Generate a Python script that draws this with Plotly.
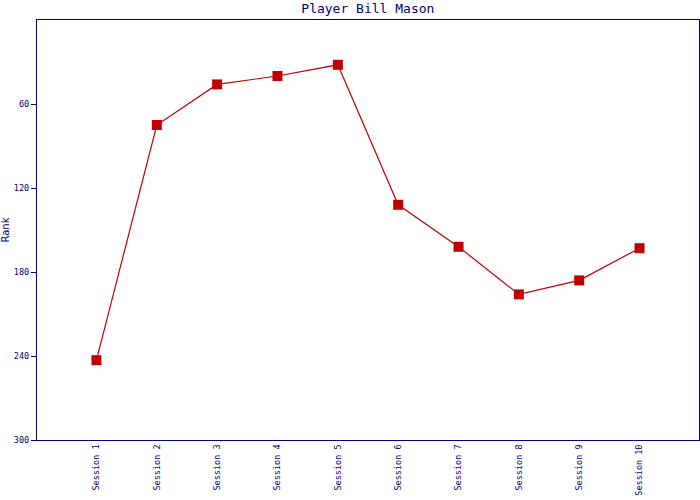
import plotly.graph_objects as go

sessions = ["Session 1", "Session 2", "Session 3", "Session 4", "Session 5",
            "Session 6", "Session 7", "Session 8", "Session 9", "Session 10"]
ranks = [243, 75, 46, 40, 32, 132, 162, 196, 186, 163]
y_ticks = [60, 120, 180, 240, 300]

navy = "#000080"
red = "#C00000"
mono = "DejaVu Sans Mono"

fig = go.Figure(go.Scatter(
    x=list(range(len(sessions))), y=ranks, mode="lines+markers",
    line=dict(color=red, width=1.2),
    marker=dict(symbol="square", size=10, color=red),
))

fig.update_layout(
    width=700, height=500,
    margin=dict(l=37, r=1, t=20, b=60, autoexpand=False),
    paper_bgcolor="white", plot_bgcolor="white",
    showlegend=False,
    title=dict(text="Player Bill Mason", x=0.5255, xanchor="center", y=0.993, yanchor="top",
               font=dict(family=mono, size=13, color=navy)),
    xaxis=dict(range=[-0.985, 9.985], tickvals=list(range(len(sessions))), ticktext=sessions,
               tickangle=-90, showgrid=False, zeroline=False, automargin=False,
               showline=True, linecolor=navy, linewidth=1.2, mirror=True,
               ticks="", tickfont=dict(family=mono, size=8.5, color=navy)),
    yaxis=dict(range=[300, 0], tickvals=y_ticks, showgrid=False, zeroline=False, automargin=False,
               showline=True, linecolor=navy, linewidth=1.2, mirror=True,
               ticks="outside", ticklen=5, tickcolor=navy, tickwidth=1.2,
               tickfont=dict(family=mono, size=8.5, color=navy),
               title=dict(text="Rank", font=dict(family="DejaVu Sans", size=10, color=navy), standoff=12)),
)

post = ("document.body.style.margin='0';document.body.style.overflow='hidden';"
        "var gd=document.getElementById('{plot_id}');"
        "Plotly.relayout(gd,{width:700,height:500});")

fig.write_html("out.html", config={"responsive": False, "displayModeBar": False}, post_script=post)
